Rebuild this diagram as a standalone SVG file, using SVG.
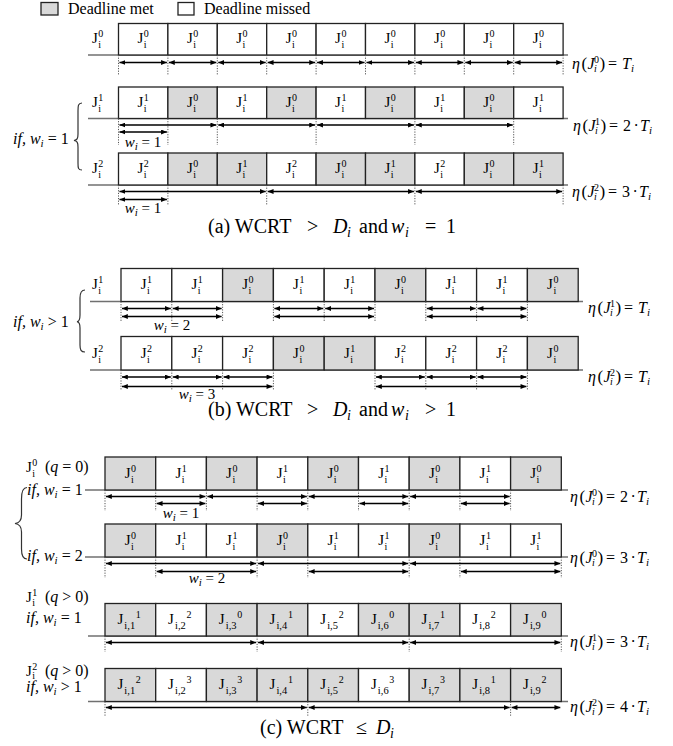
<svg xmlns="http://www.w3.org/2000/svg" width="673" height="746" viewBox="0 0 673 746">
<defs>
<style>
text{font-family:"Liberation Serif","Times New Roman",serif;fill:#000}
.w{fill:#fff;stroke:#222;stroke-width:1.3}
.g{fill:#d9d9d9;stroke:#222;stroke-width:1.3}
.j{font-size:15px}
.s{font-size:10px}
.s2{font-size:10.5px}
.bl{stroke:#707070;stroke-width:1.6}
.dt{stroke:#555;stroke-width:1;stroke-dasharray:1.2 1.4}
.ar{stroke:#000;stroke-width:1.6;marker-start:url(#ah);marker-end:url(#ah)}
.m{font-size:16px}
.wl{font-size:15px}
.it{font-style:italic}
.ms{font-size:11px}
.bp{font-size:17px}
.cap{font-size:20px}
.cs{font-size:14px}
.lg{font-size:16px}
.br{fill:none;stroke:#333;stroke-width:1.2}
</style>
<marker id="ah" viewBox="0 0 7 6" refX="7" refY="3" markerWidth="6" markerHeight="5" markerUnits="userSpaceOnUse" orient="auto-start-reverse"><path d="M0,0L7,3L0,6z" fill="#000"/></marker>
</defs>

<g id="legend">
<rect class="g" x="41" y="2.5" width="17" height="12.5"/>
<text class="lg" x="68" y="14">Deadline met</text>
<rect class="w" x="178" y="2.5" width="16" height="12.5"/>
<text class="lg" x="204" y="14">Deadline missed</text>
</g>

<g id="baselines">
<line class="bl" x1="88" y1="55" x2="568" y2="55"/>
<line class="bl" x1="88" y1="118.5" x2="568" y2="118.5"/>
<line class="bl" x1="88" y1="185" x2="568" y2="185"/>
<line class="bl" x1="90" y1="301.5" x2="583" y2="301.5"/>
<line class="bl" x1="90" y1="370" x2="583" y2="370"/>
<line class="bl" x1="85" y1="490" x2="568" y2="490"/>
<line class="bl" x1="85" y1="557" x2="568" y2="557"/>
<line class="bl" x1="88" y1="636" x2="568" y2="636"/>
<line class="bl" x1="88" y1="701.5" x2="568" y2="701.5"/>
</g>

<!-- Section (a) -->
<g id="row-a1">
<text class="j" x="92" y="43">J<tspan class="s" x="98.3" y="37">0</tspan><tspan class="s" x="98.3" y="48">i</tspan></text>
<g id="a1-1"><rect class="w" x="118.5" y="23.5" width="49.4" height="31.5"/><text class="j" x="137.5" y="43">J<tspan class="s" x="143.8" y="37">0</tspan><tspan class="s" x="143.8" y="48">i</tspan></text></g>
<g id="a1-2"><rect class="w" x="167.9" y="23.5" width="49.4" height="31.5"/><text class="j" x="186.9" y="43">J<tspan class="s" x="193.2" y="37">0</tspan><tspan class="s" x="193.2" y="48">i</tspan></text></g>
<g id="a1-3"><rect class="w" x="217.3" y="23.5" width="49.4" height="31.5"/><text class="j" x="236.3" y="43">J<tspan class="s" x="242.6" y="37">0</tspan><tspan class="s" x="242.6" y="48">i</tspan></text></g>
<g id="a1-4"><rect class="w" x="266.7" y="23.5" width="49.4" height="31.5"/><text class="j" x="285.7" y="43">J<tspan class="s" x="292" y="37">0</tspan><tspan class="s" x="292" y="48">i</tspan></text></g>
<g id="a1-5"><rect class="w" x="316.1" y="23.5" width="49.4" height="31.5"/><text class="j" x="335.1" y="43">J<tspan class="s" x="341.4" y="37">0</tspan><tspan class="s" x="341.4" y="48">i</tspan></text></g>
<g id="a1-6"><rect class="w" x="365.5" y="23.5" width="49.4" height="31.5"/><text class="j" x="384.5" y="43">J<tspan class="s" x="390.8" y="37">0</tspan><tspan class="s" x="390.8" y="48">i</tspan></text></g>
<g id="a1-7"><rect class="w" x="414.9" y="23.5" width="49.4" height="31.5"/><text class="j" x="433.9" y="43">J<tspan class="s" x="440.2" y="37">0</tspan><tspan class="s" x="440.2" y="48">i</tspan></text></g>
<g id="a1-8"><rect class="w" x="464.3" y="23.5" width="49.4" height="31.5"/><text class="j" x="483.3" y="43">J<tspan class="s" x="489.6" y="37">0</tspan><tspan class="s" x="489.6" y="48">i</tspan></text></g>
<g id="a1-9"><rect class="w" x="513.7" y="23.5" width="49.4" height="31.5"/><text class="j" x="532.7" y="43">J<tspan class="s" x="539" y="37">0</tspan><tspan class="s" x="539" y="48">i</tspan></text></g>
</g>

<g id="row-a2">
<text class="j" x="92" y="106.5">J<tspan class="s" x="98.3" y="100.5">1</tspan><tspan class="s" x="98.3" y="111.5">i</tspan></text>
<g id="a2-1"><rect class="w" x="118.5" y="87" width="49.4" height="31.5"/><text class="j" x="137.5" y="106.5">J<tspan class="s" x="143.8" y="100.5">1</tspan><tspan class="s" x="143.8" y="111.5">i</tspan></text></g>
<g id="a2-2"><rect class="g" x="167.9" y="87" width="49.4" height="31.5"/><text class="j" x="186.9" y="106.5">J<tspan class="s" x="193.2" y="100.5">0</tspan><tspan class="s" x="193.2" y="111.5">i</tspan></text></g>
<g id="a2-3"><rect class="w" x="217.3" y="87" width="49.4" height="31.5"/><text class="j" x="236.3" y="106.5">J<tspan class="s" x="242.6" y="100.5">1</tspan><tspan class="s" x="242.6" y="111.5">i</tspan></text></g>
<g id="a2-4"><rect class="g" x="266.7" y="87" width="49.4" height="31.5"/><text class="j" x="285.7" y="106.5">J<tspan class="s" x="292" y="100.5">0</tspan><tspan class="s" x="292" y="111.5">i</tspan></text></g>
<g id="a2-5"><rect class="w" x="316.1" y="87" width="49.4" height="31.5"/><text class="j" x="335.1" y="106.5">J<tspan class="s" x="341.4" y="100.5">1</tspan><tspan class="s" x="341.4" y="111.5">i</tspan></text></g>
<g id="a2-6"><rect class="g" x="365.5" y="87" width="49.4" height="31.5"/><text class="j" x="384.5" y="106.5">J<tspan class="s" x="390.8" y="100.5">0</tspan><tspan class="s" x="390.8" y="111.5">i</tspan></text></g>
<g id="a2-7"><rect class="w" x="414.9" y="87" width="49.4" height="31.5"/><text class="j" x="433.9" y="106.5">J<tspan class="s" x="440.2" y="100.5">1</tspan><tspan class="s" x="440.2" y="111.5">i</tspan></text></g>
<g id="a2-8"><rect class="g" x="464.3" y="87" width="49.4" height="31.5"/><text class="j" x="483.3" y="106.5">J<tspan class="s" x="489.6" y="100.5">0</tspan><tspan class="s" x="489.6" y="111.5">i</tspan></text></g>
<g id="a2-9"><rect class="w" x="513.7" y="87" width="49.4" height="31.5"/><text class="j" x="532.7" y="106.5">J<tspan class="s" x="539" y="100.5">1</tspan><tspan class="s" x="539" y="111.5">i</tspan></text></g>
</g>

<g id="row-a3">
<text class="j" x="92" y="172.5">J<tspan class="s" x="98.3" y="166.5">2</tspan><tspan class="s" x="98.3" y="177.5">i</tspan></text>
<g id="a3-1"><rect class="w" x="118.5" y="153" width="49.4" height="32"/><text class="j" x="137.5" y="172.5">J<tspan class="s" x="143.8" y="166.5">2</tspan><tspan class="s" x="143.8" y="177.5">i</tspan></text></g>
<g id="a3-2"><rect class="g" x="167.9" y="153" width="49.4" height="32"/><text class="j" x="186.9" y="172.5">J<tspan class="s" x="193.2" y="166.5">0</tspan><tspan class="s" x="193.2" y="177.5">i</tspan></text></g>
<g id="a3-3"><rect class="g" x="217.3" y="153" width="49.4" height="32"/><text class="j" x="236.3" y="172.5">J<tspan class="s" x="242.6" y="166.5">1</tspan><tspan class="s" x="242.6" y="177.5">i</tspan></text></g>
<g id="a3-4"><rect class="w" x="266.7" y="153" width="49.4" height="32"/><text class="j" x="285.7" y="172.5">J<tspan class="s" x="292" y="166.5">2</tspan><tspan class="s" x="292" y="177.5">i</tspan></text></g>
<g id="a3-5"><rect class="g" x="316.1" y="153" width="49.4" height="32"/><text class="j" x="335.1" y="172.5">J<tspan class="s" x="341.4" y="166.5">0</tspan><tspan class="s" x="341.4" y="177.5">i</tspan></text></g>
<g id="a3-6"><rect class="g" x="365.5" y="153" width="49.4" height="32"/><text class="j" x="384.5" y="172.5">J<tspan class="s" x="390.8" y="166.5">1</tspan><tspan class="s" x="390.8" y="177.5">i</tspan></text></g>
<g id="a3-7"><rect class="w" x="414.9" y="153" width="49.4" height="32"/><text class="j" x="433.9" y="172.5">J<tspan class="s" x="440.2" y="166.5">2</tspan><tspan class="s" x="440.2" y="177.5">i</tspan></text></g>
<g id="a3-8"><rect class="g" x="464.3" y="153" width="49.4" height="32"/><text class="j" x="483.3" y="172.5">J<tspan class="s" x="489.6" y="166.5">0</tspan><tspan class="s" x="489.6" y="177.5">i</tspan></text></g>
<g id="a3-9"><rect class="g" x="513.7" y="153" width="49.4" height="32"/><text class="j" x="532.7" y="172.5">J<tspan class="s" x="539" y="166.5">1</tspan><tspan class="s" x="539" y="177.5">i</tspan></text></g>
</g>

<g id="labels-a">
<path class="br" d="M82,103 C78,103 78,106 78,111 L78,134 C78,139 77,140 74,140.5 C77,141 78,142 78,147 L78,163 C78,168 78,170 82,170"/>
<text class="m" x="13" y="144"><tspan class="it">if, w</tspan><tspan class="ms it" dy="3">i</tspan><tspan dy="-3"> = 1</tspan></text>
<text class="wl" x="143" y="147" text-anchor="middle"><tspan class="it">w</tspan><tspan class="ms it" dy="3">i</tspan><tspan dy="-3"> = 1</tspan></text>
<text class="wl" x="143" y="213" text-anchor="middle"><tspan class="it">w</tspan><tspan class="ms it" dy="3">i</tspan><tspan dy="-3"> = 1</tspan></text>
<text class="m" x="572" y="69"><tspan class="it">η</tspan><tspan class="bp" x="581.5">(</tspan><tspan class="it" x="587.5">J</tspan><tspan class="s" x="594" y="63">0</tspan><tspan class="s it" x="594" y="72">i</tspan><tspan class="bp" x="599.5" y="69">)</tspan><tspan x="608">=</tspan><tspan class="it" x="622">T</tspan><tspan class="ms it" x="631" y="72">i</tspan></text>
<text class="m" x="573" y="131"><tspan class="it">η</tspan><tspan class="bp" x="582.5">(</tspan><tspan class="it" x="588.5">J</tspan><tspan class="s" x="595" y="125">1</tspan><tspan class="s it" x="595" y="134">i</tspan><tspan class="bp" x="600.5" y="131">)</tspan><tspan x="609">=</tspan><tspan x="623">2</tspan><tspan x="633.5">·</tspan><tspan class="it" x="640">T</tspan><tspan class="ms it" x="649" y="134">i</tspan></text>
<text class="m" x="572" y="197"><tspan class="it">η</tspan><tspan class="bp" x="581.5">(</tspan><tspan class="it" x="587.5">J</tspan><tspan class="s" x="594" y="191">2</tspan><tspan class="s it" x="594" y="200">i</tspan><tspan class="bp" x="599.5" y="197">)</tspan><tspan x="608">=</tspan><tspan x="622">3</tspan><tspan x="632.5">·</tspan><tspan class="it" x="639">T</tspan><tspan class="ms it" x="648" y="200">i</tspan></text>
<text class="cap" y="233"><tspan x="208">(a) WCRT</tspan><tspan x="307">&gt;</tspan><tspan class="it" x="333">D</tspan><tspan class="cs it" x="347" y="237">i</tspan><tspan x="359" y="233">and</tspan><tspan class="it" x="391">w</tspan><tspan class="cs it" x="405" y="237">i</tspan><tspan x="425" y="233">=</tspan><tspan x="446">1</tspan></text>
</g>

<!-- Section (b) -->
<g id="row-b1">
<text class="j" x="92" y="289">J<tspan class="s" x="98.3" y="283">1</tspan><tspan class="s" x="98.3" y="294">i</tspan></text>
<g id="b1-1"><rect class="w" x="121" y="268.5" width="50.8" height="33"/><text class="j" x="140.7" y="289">J<tspan class="s" x="147" y="283">1</tspan><tspan class="s" x="147" y="294">i</tspan></text></g>
<g id="b1-2"><rect class="w" x="171.8" y="268.5" width="50.8" height="33"/><text class="j" x="191.5" y="289">J<tspan class="s" x="197.8" y="283">1</tspan><tspan class="s" x="197.8" y="294">i</tspan></text></g>
<g id="b1-3"><rect class="g" x="222.6" y="268.5" width="50.8" height="33"/><text class="j" x="242.3" y="289">J<tspan class="s" x="248.6" y="283">0</tspan><tspan class="s" x="248.6" y="294">i</tspan></text></g>
<g id="b1-4"><rect class="w" x="273.4" y="268.5" width="50.8" height="33"/><text class="j" x="293.1" y="289">J<tspan class="s" x="299.4" y="283">1</tspan><tspan class="s" x="299.4" y="294">i</tspan></text></g>
<g id="b1-5"><rect class="w" x="324.2" y="268.5" width="50.8" height="33"/><text class="j" x="343.9" y="289">J<tspan class="s" x="350.2" y="283">1</tspan><tspan class="s" x="350.2" y="294">i</tspan></text></g>
<g id="b1-6"><rect class="g" x="375" y="268.5" width="50.8" height="33"/><text class="j" x="394.7" y="289">J<tspan class="s" x="401" y="283">0</tspan><tspan class="s" x="401" y="294">i</tspan></text></g>
<g id="b1-7"><rect class="w" x="425.8" y="268.5" width="50.8" height="33"/><text class="j" x="445.5" y="289">J<tspan class="s" x="451.8" y="283">1</tspan><tspan class="s" x="451.8" y="294">i</tspan></text></g>
<g id="b1-8"><rect class="w" x="476.6" y="268.5" width="50.8" height="33"/><text class="j" x="496.3" y="289">J<tspan class="s" x="502.6" y="283">1</tspan><tspan class="s" x="502.6" y="294">i</tspan></text></g>
<g id="b1-9"><rect class="g" x="527.4" y="268.5" width="50.8" height="33"/><text class="j" x="547.1" y="289">J<tspan class="s" x="553.4" y="283">0</tspan><tspan class="s" x="553.4" y="294">i</tspan></text></g>
</g>

<g id="row-b2">
<text class="j" x="92" y="357.5">J<tspan class="s" x="98.3" y="351.5">2</tspan><tspan class="s" x="98.3" y="362.5">i</tspan></text>
<g id="b2-1"><rect class="w" x="121" y="336.5" width="50.8" height="33.5"/><text class="j" x="140.7" y="357.5">J<tspan class="s" x="147" y="351.5">2</tspan><tspan class="s" x="147" y="362.5">i</tspan></text></g>
<g id="b2-2"><rect class="w" x="171.8" y="336.5" width="50.8" height="33.5"/><text class="j" x="191.5" y="357.5">J<tspan class="s" x="197.8" y="351.5">2</tspan><tspan class="s" x="197.8" y="362.5">i</tspan></text></g>
<g id="b2-3"><rect class="w" x="222.6" y="336.5" width="50.8" height="33.5"/><text class="j" x="242.3" y="357.5">J<tspan class="s" x="248.6" y="351.5">2</tspan><tspan class="s" x="248.6" y="362.5">i</tspan></text></g>
<g id="b2-4"><rect class="g" x="273.4" y="336.5" width="50.8" height="33.5"/><text class="j" x="293.1" y="357.5">J<tspan class="s" x="299.4" y="351.5">0</tspan><tspan class="s" x="299.4" y="362.5">i</tspan></text></g>
<g id="b2-5"><rect class="g" x="324.2" y="336.5" width="50.8" height="33.5"/><text class="j" x="343.9" y="357.5">J<tspan class="s" x="350.2" y="351.5">1</tspan><tspan class="s" x="350.2" y="362.5">i</tspan></text></g>
<g id="b2-6"><rect class="w" x="375" y="336.5" width="50.8" height="33.5"/><text class="j" x="394.7" y="357.5">J<tspan class="s" x="401" y="351.5">2</tspan><tspan class="s" x="401" y="362.5">i</tspan></text></g>
<g id="b2-7"><rect class="w" x="425.8" y="336.5" width="50.8" height="33.5"/><text class="j" x="445.5" y="357.5">J<tspan class="s" x="451.8" y="351.5">2</tspan><tspan class="s" x="451.8" y="362.5">i</tspan></text></g>
<g id="b2-8"><rect class="w" x="476.6" y="336.5" width="50.8" height="33.5"/><text class="j" x="496.3" y="357.5">J<tspan class="s" x="502.6" y="351.5">2</tspan><tspan class="s" x="502.6" y="362.5">i</tspan></text></g>
<g id="b2-9"><rect class="g" x="527.4" y="336.5" width="50.8" height="33.5"/><text class="j" x="547.1" y="357.5">J<tspan class="s" x="553.4" y="351.5">0</tspan><tspan class="s" x="553.4" y="362.5">i</tspan></text></g>
</g>

<g id="labels-b">
<path class="br" d="M85,290 C81,290 80,293 80,298 L80,315 C80,320 79,321.5 77,321.7 C79,322 80,323 80,328 L80,345 C80,350 81,352 85,352"/>
<text class="m" x="13" y="326.5"><tspan class="it">if, w</tspan><tspan class="ms it" dy="3">i</tspan><tspan dy="-3"> &gt; 1</tspan></text>
<text class="wl" x="172" y="330" text-anchor="middle"><tspan class="it">w</tspan><tspan class="ms it" dy="3">i</tspan><tspan dy="-3"> = 2</tspan></text>
<text class="wl" x="197" y="399" text-anchor="middle"><tspan class="it">w</tspan><tspan class="ms it" dy="3">i</tspan><tspan dy="-3"> = 3</tspan></text>
<text class="m" x="588" y="313"><tspan class="it">η</tspan><tspan class="bp" x="597.5">(</tspan><tspan class="it" x="603.5">J</tspan><tspan class="s" x="610" y="307">1</tspan><tspan class="s it" x="610" y="316">i</tspan><tspan class="bp" x="615.5" y="313">)</tspan><tspan x="624">=</tspan><tspan class="it" x="638">T</tspan><tspan class="ms it" x="647" y="316">i</tspan></text>
<text class="m" x="588" y="382"><tspan class="it">η</tspan><tspan class="bp" x="597.5">(</tspan><tspan class="it" x="603.5">J</tspan><tspan class="s" x="610" y="376">2</tspan><tspan class="s it" x="610" y="385">i</tspan><tspan class="bp" x="615.5" y="382">)</tspan><tspan x="624">=</tspan><tspan class="it" x="638">T</tspan><tspan class="ms it" x="647" y="385">i</tspan></text>
<text class="cap" y="416"><tspan x="208">(b) WCRT</tspan><tspan x="307">&gt;</tspan><tspan class="it" x="333">D</tspan><tspan class="cs it" x="347" y="420">i</tspan><tspan x="359" y="416">and</tspan><tspan class="it" x="391">w</tspan><tspan class="cs it" x="405" y="420">i</tspan><tspan x="425" y="416">&gt;</tspan><tspan x="446">1</tspan></text>
</g>

<!-- Section (c) -->
<g id="row-c1">
<g id="c1-1"><rect class="g" x="105" y="457" width="50.7" height="33"/><text class="j" x="124.7" y="477.5">J<tspan class="s" x="131" y="471.5">0</tspan><tspan class="s" x="131" y="482.5">i</tspan></text></g>
<g id="c1-2"><rect class="w" x="155.7" y="457" width="50.7" height="33"/><text class="j" x="175.4" y="477.5">J<tspan class="s" x="181.7" y="471.5">1</tspan><tspan class="s" x="181.7" y="482.5">i</tspan></text></g>
<g id="c1-3"><rect class="g" x="206.4" y="457" width="50.7" height="33"/><text class="j" x="226.1" y="477.5">J<tspan class="s" x="232.4" y="471.5">0</tspan><tspan class="s" x="232.4" y="482.5">i</tspan></text></g>
<g id="c1-4"><rect class="w" x="257.1" y="457" width="50.7" height="33"/><text class="j" x="276.8" y="477.5">J<tspan class="s" x="283.1" y="471.5">1</tspan><tspan class="s" x="283.1" y="482.5">i</tspan></text></g>
<g id="c1-5"><rect class="g" x="307.8" y="457" width="50.7" height="33"/><text class="j" x="327.5" y="477.5">J<tspan class="s" x="333.8" y="471.5">0</tspan><tspan class="s" x="333.8" y="482.5">i</tspan></text></g>
<g id="c1-6"><rect class="w" x="358.5" y="457" width="50.7" height="33"/><text class="j" x="378.2" y="477.5">J<tspan class="s" x="384.5" y="471.5">1</tspan><tspan class="s" x="384.5" y="482.5">i</tspan></text></g>
<g id="c1-7"><rect class="g" x="409.2" y="457" width="50.7" height="33"/><text class="j" x="428.9" y="477.5">J<tspan class="s" x="435.2" y="471.5">0</tspan><tspan class="s" x="435.2" y="482.5">i</tspan></text></g>
<g id="c1-8"><rect class="w" x="459.9" y="457" width="50.7" height="33"/><text class="j" x="479.6" y="477.5">J<tspan class="s" x="485.9" y="471.5">1</tspan><tspan class="s" x="485.9" y="482.5">i</tspan></text></g>
<g id="c1-9"><rect class="g" x="510.6" y="457" width="50.7" height="33"/><text class="j" x="530.3" y="477.5">J<tspan class="s" x="536.6" y="471.5">0</tspan><tspan class="s" x="536.6" y="482.5">i</tspan></text></g>
</g>

<g id="row-c2">
<g id="c2-1"><rect class="g" x="105" y="524" width="50.7" height="33"/><text class="j" x="124.7" y="544.5">J<tspan class="s" x="131" y="538.5">0</tspan><tspan class="s" x="131" y="549.5">i</tspan></text></g>
<g id="c2-2"><rect class="w" x="155.7" y="524" width="50.7" height="33"/><text class="j" x="175.4" y="544.5">J<tspan class="s" x="181.7" y="538.5">1</tspan><tspan class="s" x="181.7" y="549.5">i</tspan></text></g>
<g id="c2-3"><rect class="w" x="206.4" y="524" width="50.7" height="33"/><text class="j" x="226.1" y="544.5">J<tspan class="s" x="232.4" y="538.5">1</tspan><tspan class="s" x="232.4" y="549.5">i</tspan></text></g>
<g id="c2-4"><rect class="g" x="257.1" y="524" width="50.7" height="33"/><text class="j" x="276.8" y="544.5">J<tspan class="s" x="283.1" y="538.5">0</tspan><tspan class="s" x="283.1" y="549.5">i</tspan></text></g>
<g id="c2-5"><rect class="w" x="307.8" y="524" width="50.7" height="33"/><text class="j" x="327.5" y="544.5">J<tspan class="s" x="333.8" y="538.5">1</tspan><tspan class="s" x="333.8" y="549.5">i</tspan></text></g>
<g id="c2-6"><rect class="w" x="358.5" y="524" width="50.7" height="33"/><text class="j" x="378.2" y="544.5">J<tspan class="s" x="384.5" y="538.5">1</tspan><tspan class="s" x="384.5" y="549.5">i</tspan></text></g>
<g id="c2-7"><rect class="g" x="409.2" y="524" width="50.7" height="33"/><text class="j" x="428.9" y="544.5">J<tspan class="s" x="435.2" y="538.5">0</tspan><tspan class="s" x="435.2" y="549.5">i</tspan></text></g>
<g id="c2-8"><rect class="w" x="459.9" y="524" width="50.7" height="33"/><text class="j" x="479.6" y="544.5">J<tspan class="s" x="485.9" y="538.5">1</tspan><tspan class="s" x="485.9" y="549.5">i</tspan></text></g>
<g id="c2-9"><rect class="w" x="510.6" y="524" width="50.7" height="33"/><text class="j" x="530.3" y="544.5">J<tspan class="s" x="536.6" y="538.5">1</tspan><tspan class="s" x="536.6" y="549.5">i</tspan></text></g>
</g>

<g id="row-c3">
<g id="c3-1"><rect class="g" x="105" y="603.5" width="50.7" height="32.5"/><text class="j" x="117.4" y="624">J<tspan class="s2" x="124.35" y="629">i,1</tspan><tspan class="s" x="135.85" y="618">1</tspan></text></g>
<g id="c3-2"><rect class="w" x="155.7" y="603.5" width="50.7" height="32.5"/><text class="j" x="168.1" y="624">J<tspan class="s2" x="175.05" y="629">i,2</tspan><tspan class="s" x="186.55" y="618">2</tspan></text></g>
<g id="c3-3"><rect class="g" x="206.4" y="603.5" width="50.7" height="32.5"/><text class="j" x="218.8" y="624">J<tspan class="s2" x="225.75" y="629">i,3</tspan><tspan class="s" x="237.25" y="618">0</tspan></text></g>
<g id="c3-4"><rect class="g" x="257.1" y="603.5" width="50.7" height="32.5"/><text class="j" x="269.5" y="624">J<tspan class="s2" x="276.45" y="629">i,4</tspan><tspan class="s" x="287.95" y="618">1</tspan></text></g>
<g id="c3-5"><rect class="w" x="307.8" y="603.5" width="50.7" height="32.5"/><text class="j" x="320.2" y="624">J<tspan class="s2" x="327.15" y="629">i,5</tspan><tspan class="s" x="338.65" y="618">2</tspan></text></g>
<g id="c3-6"><rect class="g" x="358.5" y="603.5" width="50.7" height="32.5"/><text class="j" x="370.9" y="624">J<tspan class="s2" x="377.85" y="629">i,6</tspan><tspan class="s" x="389.35" y="618">0</tspan></text></g>
<g id="c3-7"><rect class="g" x="409.2" y="603.5" width="50.7" height="32.5"/><text class="j" x="421.6" y="624">J<tspan class="s2" x="428.55" y="629">i,7</tspan><tspan class="s" x="440.05" y="618">1</tspan></text></g>
<g id="c3-8"><rect class="w" x="459.9" y="603.5" width="50.7" height="32.5"/><text class="j" x="472.3" y="624">J<tspan class="s2" x="479.25" y="629">i,8</tspan><tspan class="s" x="490.75" y="618">2</tspan></text></g>
<g id="c3-9"><rect class="g" x="510.6" y="603.5" width="50.7" height="32.5"/><text class="j" x="523" y="624">J<tspan class="s2" x="529.95" y="629">i,9</tspan><tspan class="s" x="541.45" y="618">0</tspan></text></g>
</g>

<g id="row-c4">
<g id="c4-1"><rect class="g" x="105" y="668.5" width="50.7" height="33"/><text class="j" x="117.4" y="689">J<tspan class="s2" x="124.35" y="694">i,1</tspan><tspan class="s" x="135.85" y="683">2</tspan></text></g>
<g id="c4-2"><rect class="w" x="155.7" y="668.5" width="50.7" height="33"/><text class="j" x="168.1" y="689">J<tspan class="s2" x="175.05" y="694">i,2</tspan><tspan class="s" x="186.55" y="683">3</tspan></text></g>
<g id="c4-3"><rect class="g" x="206.4" y="668.5" width="50.7" height="33"/><text class="j" x="218.8" y="689">J<tspan class="s2" x="225.75" y="694">i,3</tspan><tspan class="s" x="237.25" y="683">3</tspan></text></g>
<g id="c4-4"><rect class="g" x="257.1" y="668.5" width="50.7" height="33"/><text class="j" x="269.5" y="689">J<tspan class="s2" x="276.45" y="694">i,4</tspan><tspan class="s" x="287.95" y="683">1</tspan></text></g>
<g id="c4-5"><rect class="g" x="307.8" y="668.5" width="50.7" height="33"/><text class="j" x="320.2" y="689">J<tspan class="s2" x="327.15" y="694">i,5</tspan><tspan class="s" x="338.65" y="683">2</tspan></text></g>
<g id="c4-6"><rect class="w" x="358.5" y="668.5" width="50.7" height="33"/><text class="j" x="370.9" y="689">J<tspan class="s2" x="377.85" y="694">i,6</tspan><tspan class="s" x="389.35" y="683">3</tspan></text></g>
<g id="c4-7"><rect class="g" x="409.2" y="668.5" width="50.7" height="33"/><text class="j" x="421.6" y="689">J<tspan class="s2" x="428.55" y="694">i,7</tspan><tspan class="s" x="440.05" y="683">3</tspan></text></g>
<g id="c4-8"><rect class="g" x="459.9" y="668.5" width="50.7" height="33"/><text class="j" x="472.3" y="689">J<tspan class="s2" x="479.25" y="694">i,8</tspan><tspan class="s" x="490.75" y="683">1</tspan></text></g>
<g id="c4-9"><rect class="g" x="510.6" y="668.5" width="50.7" height="33"/><text class="j" x="523" y="689">J<tspan class="s2" x="529.95" y="694">i,9</tspan><tspan class="s" x="541.45" y="683">2</tspan></text></g>
</g>

<g id="labels-c">
<path class="br" d="M27,487.5 C22.5,487.5 21.5,492 21.5,499 L21.5,515 C21.5,521 19,523 15,523.5 C19,524 21.5,526 21.5,532 L21.5,549 C21.5,555 22.5,559 27,559"/>
<text class="j" x="26" y="471.5">J<tspan class="s" x="32.3" y="465.5">0</tspan><tspan class="s" x="32.3" y="476.5">i</tspan><tspan class="m" x="45" y="471.5">(<tspan class="it">q</tspan> = 0)</tspan></text>
<text class="m" x="27" y="495"><tspan class="it">if, w</tspan><tspan class="ms it" dy="3">i</tspan><tspan dy="-3"> = 1</tspan></text>
<text class="m" x="27" y="561"><tspan class="it">if, w</tspan><tspan class="ms it" dy="3">i</tspan><tspan dy="-3"> = 2</tspan></text>
<text class="j" x="26" y="601.5">J<tspan class="s" x="32.3" y="595.5">1</tspan><tspan class="s" x="32.3" y="605.5">i</tspan><tspan class="m" x="45" y="601.5">(<tspan class="it">q</tspan> &gt; 0)</tspan></text>
<text class="m" x="26" y="623"><tspan class="it">if, w</tspan><tspan class="ms it" dy="3">i</tspan><tspan dy="-3"> = 1</tspan></text>
<text class="j" x="26" y="675.5">J<tspan class="s" x="32.3" y="669.5">2</tspan><tspan class="s" x="32.3" y="679">i</tspan><tspan class="m" x="45" y="675.5">(<tspan class="it">q</tspan> &gt; 0)</tspan></text>
<text class="m" x="26" y="692"><tspan class="it">if, w</tspan><tspan class="ms it" dy="3">i</tspan><tspan dy="-3"> &gt; 1</tspan></text>
<text class="wl" x="181" y="518" text-anchor="middle"><tspan class="it">w</tspan><tspan class="ms it" dy="3">i</tspan><tspan dy="-3"> = 1</tspan></text>
<text class="wl" x="207" y="583" text-anchor="middle"><tspan class="it">w</tspan><tspan class="ms it" dy="3">i</tspan><tspan dy="-3"> = 2</tspan></text>
<text class="m" x="570" y="502"><tspan class="it">η</tspan><tspan class="bp" x="579.5">(</tspan><tspan class="it" x="585.5">J</tspan><tspan class="s" x="592" y="496">0</tspan><tspan class="s it" x="592" y="505">i</tspan><tspan class="bp" x="597.5" y="502">)</tspan><tspan x="606">=</tspan><tspan x="620">2</tspan><tspan x="630.5">·</tspan><tspan class="it" x="637">T</tspan><tspan class="ms it" x="646" y="505">i</tspan></text>
<text class="m" x="570" y="563"><tspan class="it">η</tspan><tspan class="bp" x="579.5">(</tspan><tspan class="it" x="585.5">J</tspan><tspan class="s" x="592" y="557">0</tspan><tspan class="s it" x="592" y="566">i</tspan><tspan class="bp" x="597.5" y="563">)</tspan><tspan x="606">=</tspan><tspan x="620">3</tspan><tspan x="630.5">·</tspan><tspan class="it" x="637">T</tspan><tspan class="ms it" x="646" y="566">i</tspan></text>
<text class="m" x="570" y="647"><tspan class="it">η</tspan><tspan class="bp" x="579.5">(</tspan><tspan class="it" x="585.5">J</tspan><tspan class="s" x="592" y="641">1</tspan><tspan class="s it" x="592" y="650">i</tspan><tspan class="bp" x="597.5" y="647">)</tspan><tspan x="606">=</tspan><tspan x="620">3</tspan><tspan x="630.5">·</tspan><tspan class="it" x="637">T</tspan><tspan class="ms it" x="646" y="650">i</tspan></text>
<text class="m" x="570" y="712"><tspan class="it">η</tspan><tspan class="bp" x="579.5">(</tspan><tspan class="it" x="585.5">J</tspan><tspan class="s" x="592" y="706">2</tspan><tspan class="s it" x="592" y="715">i</tspan><tspan class="bp" x="597.5" y="712">)</tspan><tspan x="606">=</tspan><tspan x="620">4</tspan><tspan x="630.5">·</tspan><tspan class="it" x="637">T</tspan><tspan class="ms it" x="646" y="715">i</tspan></text>
<text class="cap" y="734"><tspan x="260">(c) WCRT</tspan><tspan x="356">≤</tspan><tspan class="it" x="376">D</tspan><tspan class="cs it" x="390" y="738">i</tspan></text>
</g>

<g id="connectors">
<g id="dots">
<path class="dt" d="M118.5,55V75M167.9,55V75M217.3,55V75M266.7,55V75M316.1,55V75M365.5,55V75M414.9,55V75M464.3,55V75M513.7,55V75M563.1,55V75"/>
<path class="dt" d="M118.5,118.5V145M167.9,118.5V145M217.3,118.5V145M316.1,118.5V145M414.9,118.5V145M513.7,118.5V145"/>
<path class="dt" d="M118.5,185V205M167.9,185V205M266.7,185V205M414.9,185V205M563.1,185V205"/>
<path class="dt" d="M121,301.5V321M171.8,301.5V321M222.6,301.5V321M273.4,301.5V321M324.2,301.5V321M375,301.5V321M425.8,301.5V321M476.6,301.5V321M527.4,301.5V321"/>
<path class="dt" d="M121,370V390M171.8,370V390M222.6,370V390M273.4,370V390M375,370V390M425.8,370V390M476.6,370V390M527.4,370V390"/>
<path class="dt" d="M105,490V511M155.7,490V511M206.4,490V511M257.1,490V511M307.8,490V511M358.5,490V511M409.2,490V511M459.9,490V511M510.6,490V511"/>
<path class="dt" d="M105,557V578M155.7,557V578M257.1,557V578M307.8,557V578M409.2,557V578M459.9,557V578M561.3,557V578"/>
<path class="dt" d="M105,636V652M257.1,636V652M409.2,636V652M561.3,636V652"/>
<path class="dt" d="M105,701.5V717M307.8,701.5V717M510.6,701.5V717"/>
</g>
<g id="arrows">
<line class="ar" x1="119.5" y1="62.5" x2="166.9" y2="62.5"/>
<line class="ar" x1="168.9" y1="62.5" x2="216.3" y2="62.5"/>
<line class="ar" x1="218.3" y1="62.5" x2="265.7" y2="62.5"/>
<line class="ar" x1="267.7" y1="62.5" x2="315.1" y2="62.5"/>
<line class="ar" x1="317.1" y1="62.5" x2="364.5" y2="62.5"/>
<line class="ar" x1="366.5" y1="62.5" x2="413.9" y2="62.5"/>
<line class="ar" x1="415.9" y1="62.5" x2="463.3" y2="62.5"/>
<line class="ar" x1="465.3" y1="62.5" x2="512.7" y2="62.5"/>
<line class="ar" x1="514.7" y1="62.5" x2="562.1" y2="62.5"/>

<line class="ar" x1="119.5" y1="125" x2="216.3" y2="125"/>
<line class="ar" x1="218.3" y1="125" x2="315.1" y2="125"/>
<line class="ar" x1="317.1" y1="125" x2="413.9" y2="125"/>
<line class="ar" x1="415.9" y1="125" x2="512.7" y2="125"/>
<line class="ar" x1="119.5" y1="132" x2="166.9" y2="132"/>

<line class="ar" x1="119.5" y1="191.5" x2="265.7" y2="191.5"/>
<line class="ar" x1="267.7" y1="191.5" x2="413.9" y2="191.5"/>
<line class="ar" x1="415.9" y1="191.5" x2="562.1" y2="191.5"/>
<line class="ar" x1="119.5" y1="199.5" x2="166.9" y2="199.5"/>

<line class="ar" x1="122" y1="308.5" x2="170.8" y2="308.5"/>
<line class="ar" x1="172.8" y1="308.5" x2="221.6" y2="308.5"/>
<line class="ar" x1="274.4" y1="308.5" x2="323.2" y2="308.5"/>
<line class="ar" x1="325.2" y1="308.5" x2="374" y2="308.5"/>
<line class="ar" x1="426.8" y1="308.5" x2="475.6" y2="308.5"/>
<line class="ar" x1="477.6" y1="308.5" x2="526.4" y2="308.5"/>
<line class="ar" x1="122" y1="316.5" x2="221.6" y2="316.5"/>
<line class="ar" x1="274.4" y1="316.5" x2="374" y2="316.5"/>
<line class="ar" x1="426.8" y1="316.5" x2="526.4" y2="316.5"/>

<line class="ar" x1="122" y1="377" x2="170.8" y2="377"/>
<line class="ar" x1="172.8" y1="377" x2="221.6" y2="377"/>
<line class="ar" x1="223.6" y1="377" x2="272.4" y2="377"/>
<line class="ar" x1="376" y1="377" x2="424.8" y2="377"/>
<line class="ar" x1="426.8" y1="377" x2="475.6" y2="377"/>
<line class="ar" x1="477.6" y1="377" x2="526.4" y2="377"/>
<line class="ar" x1="122" y1="386.5" x2="272.4" y2="386.5"/>
<line class="ar" x1="376" y1="386.5" x2="526.4" y2="386.5"/>

<line class="ar" x1="106" y1="496.5" x2="205.4" y2="496.5"/>
<line class="ar" x1="207.4" y1="496.5" x2="306.8" y2="496.5"/>
<line class="ar" x1="308.8" y1="496.5" x2="408.2" y2="496.5"/>
<line class="ar" x1="410.2" y1="496.5" x2="509.6" y2="496.5"/>
<line class="ar" x1="156.7" y1="503.5" x2="205.4" y2="503.5"/>
<line class="ar" x1="258.1" y1="503.5" x2="306.8" y2="503.5"/>
<line class="ar" x1="359.5" y1="503.5" x2="408.2" y2="503.5"/>
<line class="ar" x1="460.9" y1="503.5" x2="509.6" y2="503.5"/>

<line class="ar" x1="106" y1="563.5" x2="256.1" y2="563.5"/>
<line class="ar" x1="258.1" y1="563.5" x2="408.2" y2="563.5"/>
<line class="ar" x1="410.2" y1="563.5" x2="560.3" y2="563.5"/>
<line class="ar" x1="156.7" y1="571.5" x2="256.1" y2="571.5"/>
<line class="ar" x1="308.8" y1="571.5" x2="408.2" y2="571.5"/>
<line class="ar" x1="460.9" y1="571.5" x2="560.3" y2="571.5"/>

<line class="ar" x1="106" y1="642.5" x2="256.1" y2="642.5"/>
<line class="ar" x1="258.1" y1="642.5" x2="408.2" y2="642.5"/>
<line class="ar" x1="410.2" y1="642.5" x2="560.3" y2="642.5"/>

<line class="ar" x1="106" y1="707.5" x2="306.8" y2="707.5"/>
<line class="ar" x1="308.8" y1="707.5" x2="509.6" y2="707.5"/>
<line class="ar" x1="511.6" y1="707.5" x2="560.3" y2="707.5"/>
</g>
</g>
</svg>
